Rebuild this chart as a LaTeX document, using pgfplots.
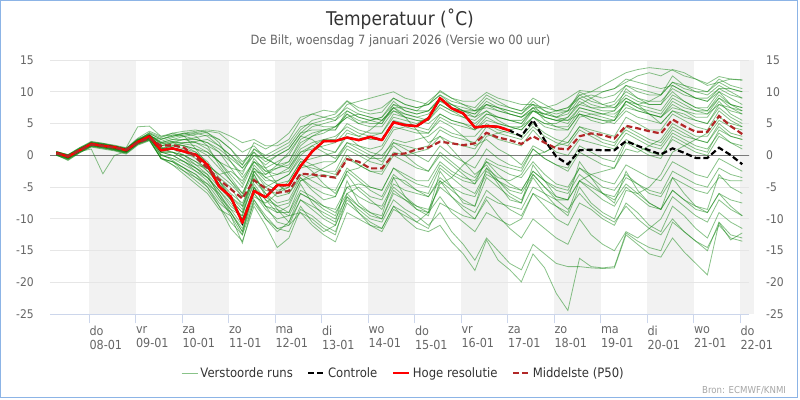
\documentclass[border=0pt]{standalone}
\usepackage{fontspec}
\setmainfont{DejaVu Sans}[FakeStretch=0.9]
\usepackage{pgfplots}
\pgfplotsset{compat=1.18}
\definecolor{band}{HTML}{F2F2F2}
\definecolor{gridgray}{HTML}{E6E6E6}
\definecolor{axisblue}{HTML}{CCD6EB}
\definecolor{ticktext}{HTML}{666666}
\definecolor{titletext}{HTML}{333333}
\definecolor{zerogray}{HTML}{7A7A7A}
\definecolor{border}{RGB}{140,180,230}
\definecolor{memgreen}{RGB}{20,135,20}
\definecolor{p50red}{RGB}{178,40,40}
\pgfplotsset{
  member/.style={memgreen, opacity=0.5, line width=0.8bp},
}
\newcommand{\mem}[1]{\addplot[member,forget plot] table[x expr=\coordindex, y index=0, header=false, row sep=\\] {#1};}
\begin{document}
\begin{tikzpicture}
\draw[border, line width=1bp] (0.5bp,2.5bp) rectangle (797.5bp,399.5bp);
\node[anchor=base, text=titletext, font=\fontsize{19}{22}\selectfont] at (400bp,374.3bp) {Temperatuur (˚C)};
\node[anchor=base, text=ticktext, font=\fontsize{12.8}{15}\selectfont] at (400.5bp,355.7bp) {De Bilt, woensdag 7 januari 2026 (Versie wo 00 uur)};
\node[anchor=base east, text=gray!70, font=\fontsize{9.6}{11}\selectfont] at (789.5bp,6.7bp) {Bron: ECMWF/KNMI};
\begin{axis}[
  at={(50bp,85.7bp)}, anchor=south west,
  scale only axis, width=699bp, height=254.3bp,
  xmin=-0.548, xmax=59.58, ymin=-25, ymax=15,
  hide x axis,
  axis y line*=right,
  y axis line style={draw=none},
  ytick={-25,-20,-15,-10,-5,0,5,10,15},
  yticklabels={-25,-20,-15,-10,-5,0,5,10,15},
  ytick style={draw=none},
  yticklabel style={anchor=west, inner sep=0pt, xshift=17bp, font=\fontsize{12}{14}\selectfont, text=ticktext},
]
\addplot[draw=none, forget plot] coordinates {(0,0) (1,0)};
\end{axis}
\begin{axis}[
  at={(50bp,85.7bp)}, anchor=south west,
  scale only axis, width=699bp, height=254.3bp,
  xmin=-0.548, xmax=59.58, ymin=-25, ymax=15,
  set layers,
  axis x line*=bottom, axis y line*=left,
  x axis line style={draw=axisblue, line width=1bp, -},
  y axis line style={draw=none},
  ytick={-25,-20,-15,-10,-5,0,5,10,15},
  yticklabels={-25,-20,-15,-10,-5,0,5,10,15},
  ymajorgrids, grid style={gridgray, line width=1bp},
  xtick={2.8333,6.8333,10.8333,14.8333,18.8333,22.8333,26.8333,30.8333,34.8333,38.8333,42.8333,46.8333,50.8333,54.8333,58.8333},
  xticklabels={{do\\08-01},{vr\\09-01},{za\\10-01},{zo\\11-01},{ma\\12-01},{di\\13-01},{wo\\14-01},{do\\15-01},{vr\\16-01},{za\\17-01},{zo\\18-01},{ma\\19-01},{di\\20-01},{wo\\21-01},{do\\22-01}},
  tick align=outside,
  major tick length=9bp,
  xtick style={draw=axisblue, line width=1bp},
  ytick style={draw=none},
  xticklabel style={anchor=north west, align=left, inner sep=0pt, font=\fontsize{12.5}{13.6}\selectfont, text=ticktext, xshift=0bp, yshift=-3bp},
  yticklabel style={anchor=east, inner sep=0pt, xshift=-7bp, font=\fontsize{12}{14}\selectfont, text=ticktext},
  legend columns=4,
  legend style={draw=none, fill=none, at={(0.506,-0.231)}, anchor=center, font=\fontsize{13}{15}\selectfont, text=titletext, /tikz/every even column/.append style={column sep=12bp}, nodes={inner sep=2.5bp}},
  legend image code/.code={\draw[#1] (0bp,0bp) -- (16bp,0bp);},
]
% day bands
\addplot[fill=band, draw=none, forget plot, on layer=axis background] coordinates {(2.8333,-25) (6.8333,-25) (6.8333,15) (2.8333,15)} -- cycle;
\addplot[fill=band, draw=none, forget plot, on layer=axis background] coordinates {(10.8333,-25) (14.8333,-25) (14.8333,15) (10.8333,15)} -- cycle;
\addplot[fill=band, draw=none, forget plot, on layer=axis background] coordinates {(18.8333,-25) (22.8333,-25) (22.8333,15) (18.8333,15)} -- cycle;
\addplot[fill=band, draw=none, forget plot, on layer=axis background] coordinates {(26.8333,-25) (30.8333,-25) (30.8333,15) (26.8333,15)} -- cycle;
\addplot[fill=band, draw=none, forget plot, on layer=axis background] coordinates {(34.8333,-25) (38.8333,-25) (38.8333,15) (34.8333,15)} -- cycle;
\addplot[fill=band, draw=none, forget plot, on layer=axis background] coordinates {(42.8333,-25) (46.8333,-25) (46.8333,15) (42.8333,15)} -- cycle;
\addplot[fill=band, draw=none, forget plot, on layer=axis background] coordinates {(50.8333,-25) (54.8333,-25) (54.8333,15) (50.8333,15)} -- cycle;
\addplot[fill=band, draw=none, forget plot, on layer=axis background] coordinates {(58.8333,-25) (60,-25) (60,15) (58.8333,15)} -- cycle;
% zero line
\addplot[zerogray, line width=1bp, forget plot] coordinates {(-1,0) (61,0)};
% perturbed members
\addplot[member] table[x expr=\coordindex, y index=0, header=false, row sep=\\] {0.6\\0.0\\1.1\\2.0\\1.8\\1.4\\1.0\\2.6\\3.4\\2.6\\3.0\\3.4\\3.6\\3.8\\3.5\\2.0\\0.5\\1.5\\-0.5\\0.5\\1.5\\4.0\\5.5\\6.0\\6.5\\8.5\\7.0\\6.5\\6.8\\9.0\\8.0\\7.5\\8.0\\9.5\\8.5\\8.0\\7.0\\7.5\\7.0\\6.5\\6.0\\7.5\\6.5\\6.0\\7.0\\8.0\\9.0\\10.0\\10.5\\11.5\\12.5\\13.0\\12.5\\13.5\\13.0\\12.0\\11.0\\11.5\\12.0\\11.8\\};
\addlegendentry{Verstoorde runs}
\mem{0.2\\-0.4\\0.7\\1.6\\1.3\\1.0\\0.6\\2.0\\2.8\\1.5\\2.0\\2.5\\2.8\\3.2\\2.5\\1.0\\-1.0\\0.5\\-2.0\\-1.0\\0.0\\3.0\\4.5\\5.0\\5.5\\7.0\\6.0\\5.5\\6.0\\8.0\\7.5\\7.0\\8.5\\10.0\\9.0\\8.0\\7.5\\9.5\\8.5\\7.5\\7.0\\8.0\\7.0\\6.5\\7.0\\10.0\\9.0\\8.0\\8.5\\11.0\\10.0\\9.5\\9.5\\12.5\\11.0\\10.0\\9.5\\11.0\\10.0\\9.0\\}
\mem{0.5\\-0.1\\1.0\\2.1\\1.9\\1.5\\1.1\\2.4\\3.2\\2.0\\2.5\\3.0\\3.3\\3.6\\2.0\\-1.0\\-3.5\\-1.0\\-3.0\\-2.0\\-1.5\\1.5\\3.0\\4.0\\4.5\\6.5\\5.0\\5.5\\6.0\\8.5\\7.0\\6.5\\7.0\\9.0\\8.0\\7.0\\6.5\\8.5\\7.5\\7.0\\6.5\\8.0\\6.0\\5.5\\6.0\\8.5\\7.5\\7.0\\7.0\\10.5\\9.0\\8.0\\8.0\\10.0\\8.5\\7.5\\7.5\\10.0\\8.0\\7.0\\}
\mem{0.3\\-0.3\\0.8\\1.7\\1.4\\1.1\\0.7\\2.1\\2.9\\1.0\\1.5\\1.0\\0.5\\-1.0\\-3.5\\-5.0\\-8.0\\-4.0\\-5.0\\-4.0\\-3.0\\0.0\\1.5\\2.5\\3.0\\4.5\\3.5\\3.0\\3.5\\6.0\\5.5\\5.0\\6.0\\8.0\\7.0\\6.0\\5.0\\6.5\\6.0\\5.5\\5.0\\7.5\\5.5\\4.5\\4.5\\7.0\\6.5\\6.0\\5.5\\8.5\\7.5\\6.5\\6.0\\8.0\\7.0\\6.0\\6.0\\8.5\\6.5\\5.5\\}
\mem{0.6\\0.1\\1.0\\1.9\\1.6\\1.3\\0.9\\2.3\\3.1\\2.2\\2.8\\3.2\\3.5\\3.0\\1.5\\0.0\\-2.0\\0.0\\-1.5\\0.0\\1.0\\3.5\\5.0\\5.5\\6.0\\7.5\\6.5\\6.0\\5.5\\7.0\\6.0\\5.5\\5.0\\6.5\\5.5\\5.0\\4.0\\5.5\\5.0\\4.5\\4.5\\6.0\\5.0\\5.0\\6.0\\8.0\\7.5\\7.5\\8.0\\10.0\\9.0\\8.5\\8.5\\10.5\\9.5\\9.0\\9.0\\10.5\\9.5\\9.0\\}
\mem{0.1\\-0.5\\0.6\\1.5\\1.2\\0.9\\0.4\\1.8\\2.6\\0.5\\1.0\\0.5\\-0.5\\-2.5\\-4.0\\-6.0\\-7.5\\-3.5\\-5.5\\-6.0\\-5.0\\-2.0\\-1.5\\-1.0\\-1.0\\1.5\\0.5\\-0.5\\-0.5\\2.5\\2.0\\2.5\\3.0\\4.5\\3.5\\3.0\\3.0\\5.0\\4.0\\3.5\\3.0\\5.0\\3.5\\2.5\\2.0\\4.5\\4.0\\3.5\\3.0\\6.0\\5.0\\4.0\\4.0\\6.5\\5.5\\4.5\\4.0\\7.0\\5.5\\4.5\\}
\mem{0.3\\-0.2\\0.9\\1.8\\1.6\\1.2\\0.8\\2.2\\2.8\\0.0\\-0.5\\-1.5\\-2.5\\-3.5\\-5.5\\-7.5\\-10.0\\-5.0\\-7.0\\-8.0\\-7.5\\-4.0\\-3.5\\-3.0\\-3.5\\-0.5\\-1.5\\-2.5\\-2.5\\0.5\\0.0\\0.5\\1.0\\3.0\\2.0\\1.5\\1.0\\3.5\\2.5\\2.0\\1.5\\4.0\\2.0\\0.5\\0.0\\2.5\\2.0\\1.5\\1.0\\3.5\\2.5\\1.5\\1.0\\3.5\\2.5\\1.5\\1.0\\3.5\\2.0\\1.0\\}
\mem{0.0\\-0.6\\0.5\\1.4\\1.1\\0.8\\0.3\\1.7\\2.4\\-0.5\\-1.5\\-2.5\\-3.5\\-4.5\\-6.0\\-8.5\\-11.0\\-6.0\\-8.5\\-10.0\\-9.5\\-6.0\\-7.0\\-8.0\\-8.5\\-5.0\\-6.5\\-7.5\\-8.0\\-4.5\\-5.5\\-6.0\\-6.5\\-3.5\\-5.0\\-6.0\\-6.5\\-3.0\\-4.0\\-5.0\\-5.5\\-2.5\\-4.0\\-5.0\\-5.5\\-2.0\\-3.0\\-4.0\\-4.5\\-1.5\\-2.5\\-3.5\\-4.0\\-1.0\\-2.0\\-3.0\\-3.5\\-0.5\\-1.5\\-2.5\\}
\mem{0.4\\-0.1\\1.0\\1.9\\1.7\\1.3\\1.0\\2.4\\3.3\\1.2\\1.0\\0.0\\-1.5\\-3.0\\-5.0\\-7.0\\-9.0\\-4.5\\-7.0\\-9.0\\-9.0\\-5.5\\-6.5\\-8.0\\-9.0\\-6.0\\-8.0\\-9.5\\-10.0\\-6.0\\-7.0\\-8.0\\-8.5\\-5.0\\-6.5\\-8.0\\-9.0\\-5.5\\-7.0\\-8.5\\-9.5\\-6.0\\-8.0\\-10.0\\-11.0\\-7.5\\-8.5\\-10.0\\-11.0\\-7.5\\-9.0\\-11.0\\-12.0\\-8.0\\-9.5\\-11.5\\-13.0\\-9.0\\-10.5\\-11.5\\}
\mem{0.2\\-0.3\\0.7\\1.6\\1.3\\1.0\\0.5\\1.9\\2.5\\-0.5\\-1.0\\-2.5\\-4.0\\-5.5\\-8.0\\-11.5\\-13.5\\-8.0\\-11.0\\-14.5\\-13.0\\-8.5\\-9.5\\-11.0\\-12.0\\-7.5\\-9.0\\-10.5\\-11.5\\-8.0\\-10.0\\-11.5\\-12.0\\-11.0\\-13.6\\-15.5\\-18.1\\-13.3\\-16.5\\-18.0\\-19.9\\-15.5\\-17.7\\-21.7\\-24.4\\-16.2\\-17.5\\-17.7\\-17.5\\-12.2\\-13.5\\-14.5\\-15.0\\-10.5\\-12.0\\-13.5\\-15.0\\-10.5\\-12.5\\-13.0\\}
\mem{0.5\\0.0\\1.0\\2.0\\1.7\\1.4\\1.0\\2.3\\3.0\\0.5\\0.5\\-0.5\\-2.0\\-3.5\\-6.0\\-9.0\\-12.0\\-7.0\\-9.5\\-11.5\\-11.0\\-7.0\\-8.5\\-10.0\\-11.0\\-7.0\\-8.5\\-10.0\\-10.5\\-7.0\\-8.5\\-9.5\\-11.0\\-9.0\\-12.0\\-14.0\\-16.5\\-13.0\\-15.0\\-17.0\\-18.0\\-14.0\\-15.5\\-17.0\\-17.5\\-17.5\\-17.7\\-17.8\\-17.7\\-12.5\\-14.0\\-15.5\\-16.0\\-13.0\\-15.2\\-17.0\\-18.8\\-10.6\\-13.3\\-12.2\\}
\mem{0.3\\-0.4\\0.8\\1.7\\1.5\\1.1\\0.6\\2.0\\2.7\\0.8\\0.5\\0.0\\-1.0\\-2.0\\-4.5\\-7.0\\-9.0\\-2.5\\-5.0\\-6.5\\-6.0\\-3.0\\-4.0\\-5.0\\-5.5\\-2.0\\-3.5\\-5.0\\-5.5\\-2.0\\-3.0\\-4.0\\-4.0\\-1.0\\-2.5\\-3.5\\-4.0\\-1.0\\-2.0\\-3.0\\-3.5\\-1.0\\-3.0\\-4.5\\-5.0\\-2.0\\-3.5\\-5.0\\-5.5\\-3.0\\-4.5\\-6.0\\-6.5\\-3.5\\-4.5\\-5.5\\-6.0\\-3.5\\-4.0\\-4.0\\}
\mem{0.4\\-0.2\\0.9\\1.8\\1.6\\1.2\\0.9\\2.4\\3.5\\2.5\\3.2\\3.5\\3.8\\4.0\\3.8\\3.0\\2.0\\2.5\\1.5\\1.5\\2.5\\5.5\\6.5\\7.1\\6.8\\8.6\\7.5\\7.0\\7.5\\9.0\\8.0\\7.5\\8.0\\10.2\\9.0\\8.5\\8.5\\9.9\\9.0\\8.5\\8.0\\8.0\\7.5\\8.0\\9.0\\10.2\\10.0\\11.0\\12.0\\13.0\\13.5\\13.8\\13.6\\13.4\\12.5\\12.0\\11.3\\12.4\\12.0\\11.9\\}
\mem{0.2\\-0.3\\0.8\\1.7\\1.4\\1.1\\0.7\\2.0\\2.6\\1.5\\1.8\\1.5\\1.0\\0.5\\-1.0\\-3.0\\-5.0\\-1.0\\-2.5\\-3.0\\-2.5\\0.5\\1.0\\1.5\\2.0\\4.0\\3.0\\2.5\\2.5\\5.5\\5.0\\4.5\\4.0\\6.5\\5.5\\5.0\\4.5\\6.5\\6.0\\5.5\\5.0\\7.0\\6.0\\5.5\\5.5\\7.5\\7.0\\6.5\\6.5\\8.0\\7.0\\6.5\\6.0\\7.5\\7.0\\6.5\\6.5\\8.0\\7.0\\6.5\\}
\mem{0.0\\-0.7\\0.4\\1.3\\1.0\\0.7\\0.2\\1.6\\2.3\\-0.5\\-1.0\\-2.0\\-3.0\\-4.5\\-7.0\\-9.0\\-12.0\\-5.0\\-8.0\\-9.0\\-8.0\\-4.0\\-3.0\\-2.0\\-1.0\\2.0\\1.5\\1.0\\1.5\\4.5\\4.0\\3.5\\3.5\\6.0\\5.0\\4.5\\4.0\\6.0\\5.0\\4.5\\4.0\\6.0\\4.5\\4.0\\4.0\\6.5\\6.0\\5.5\\5.5\\7.5\\7.0\\6.5\\6.0\\8.5\\7.5\\7.0\\7.0\\9.0\\8.0\\7.5\\}
\mem{0.5\\-0.1\\1.0\\1.9\\1.7\\1.4\\1.1\\2.5\\3.2\\1.8\\2.0\\1.5\\0.5\\-1.5\\-4.0\\-7.0\\-10.0\\-6.0\\-8.0\\-8.5\\-9.5\\-9.0\\-11.0\\-12.5\\-13.6\\-9.0\\-10.0\\-11.0\\-11.5\\-8.0\\-9.0\\-10.5\\-11.5\\-7.5\\-8.5\\-9.5\\-10.0\\-6.5\\-7.5\\-8.0\\-8.5\\-5.0\\-6.0\\-7.0\\-7.0\\-4.0\\-5.0\\-6.0\\-6.5\\-3.5\\-4.5\\-5.5\\-6.0\\-2.5\\-3.5\\-4.5\\-5.0\\-2.0\\-3.0\\-3.5\\}
\mem{0.3\\-0.1\\0.9\\1.8\\1.5\\1.3\\0.9\\2.3\\3.0\\1.0\\1.2\\0.8\\0.0\\-1.5\\-3.0\\-4.5\\-6.5\\-1.5\\-3.5\\-4.5\\-4.0\\-1.0\\-0.5\\0.0\\0.5\\3.0\\1.5\\0.5\\0.0\\2.0\\1.0\\0.0\\-1.0\\1.5\\0.0\\-1.0\\-2.0\\1.0\\-0.5\\-1.5\\-2.0\\1.0\\-0.5\\-1.5\\-2.5\\0.5\\-0.5\\-1.5\\-2.0\\2.0\\1.0\\0.0\\-0.5\\3.0\\2.0\\1.0\\0.5\\4.0\\3.0\\2.5\\}
\mem{0.1\\-0.5\\0.6\\1.5\\1.3\\0.9\\0.5\\1.9\\2.6\\0.0\\-0.5\\-1.0\\-2.0\\-3.5\\-5.5\\-8.0\\-9.5\\-3.0\\-6.0\\-7.5\\-7.0\\-3.5\\-5.0\\-6.0\\-6.5\\-2.5\\-4.0\\-5.5\\-6.5\\-3.0\\-4.5\\-5.5\\-6.0\\-2.0\\-3.5\\-5.0\\-6.0\\-2.5\\-4.0\\-5.5\\-6.0\\-3.0\\-5.0\\-6.5\\-7.0\\-4.0\\-5.5\\-7.0\\-8.0\\-5.0\\-6.5\\-8.0\\-8.5\\-5.5\\-7.0\\-8.5\\-9.0\\-6.0\\-7.0\\-7.5\\}
\mem{0.4\\-0.2\\0.9\\1.9\\1.6\\1.2\\0.8\\2.2\\2.9\\1.5\\2.0\\2.0\\2.0\\1.5\\0.5\\-1.0\\-3.0\\1.0\\0.0\\1.0\\2.0\\4.5\\5.0\\4.5\\4.5\\6.0\\5.0\\4.5\\4.5\\7.0\\6.5\\6.0\\6.5\\8.5\\7.5\\7.0\\6.5\\8.0\\7.0\\6.5\\6.0\\7.0\\6.5\\6.0\\6.5\\9.0\\8.0\\7.5\\7.5\\9.5\\8.5\\8.0\\8.0\\11.0\\10.0\\9.0\\8.5\\10.0\\9.0\\8.0\\}
\mem{0.6\\0.0\\1.1\\2.0\\1.8\\1.4\\1.0\\2.4\\3.1\\2.0\\2.5\\2.5\\2.0\\1.0\\-1.0\\-3.5\\-6.0\\-2.0\\-4.0\\-4.0\\-3.0\\-0.5\\-1.5\\-2.5\\-3.0\\0.0\\-1.5\\-2.5\\-3.0\\0.0\\-1.0\\-2.0\\-2.5\\0.5\\-1.0\\-2.5\\-3.5\\-1.0\\-3.0\\-4.5\\-5.5\\-2.5\\-4.0\\-5.5\\-6.0\\-3.0\\-4.5\\-6.0\\-7.0\\-4.5\\-6.0\\-7.5\\-8.5\\-5.5\\-7.0\\-8.0\\-9.0\\-6.0\\-8.0\\-9.5\\}
\mem{0.3\\-0.4\\0.6\\1.0\\-2.9\\0.0\\0.6\\2.0\\2.7\\0.5\\0.0\\-1.0\\-2.5\\-4.0\\-6.5\\-9.5\\-13.8\\-7.0\\-10.0\\-12.0\\-10.5\\-6.0\\-7.0\\-8.5\\-9.5\\-5.0\\-4.5\\-5.0\\-5.5\\-2.0\\-3.5\\-4.5\\-5.0\\-1.5\\-3.0\\-4.0\\-4.5\\-0.5\\-1.5\\-2.0\\-2.5\\1.0\\-0.5\\-1.5\\-2.0\\1.5\\0.5\\-0.5\\-1.0\\2.5\\1.5\\0.5\\0.0\\2.5\\1.5\\0.5\\0.0\\3.0\\2.0\\1.5\\}
\mem{0.5\\0.1\\1.2\\2.2\\1.9\\1.6\\1.2\\4.5\\4.6\\3.0\\3.2\\3.0\\2.5\\2.0\\0.5\\-2.0\\-4.5\\-0.5\\-2.5\\-2.0\\-1.0\\2.5\\3.5\\4.0\\4.0\\7.0\\6.0\\5.5\\5.0\\7.5\\6.5\\6.0\\5.5\\8.0\\7.0\\6.5\\6.0\\8.0\\7.5\\7.0\\6.5\\8.5\\7.0\\6.0\\5.5\\6.5\\6.0\\5.5\\5.0\\7.0\\6.0\\5.5\\5.0\\7.0\\6.0\\5.5\\5.0\\7.5\\6.0\\5.0\\}
\mem{0.2\\-0.3\\0.8\\1.6\\1.4\\1.0\\0.6\\2.1\\2.8\\0.5\\0.5\\0.0\\-1.0\\-2.5\\-4.5\\-6.5\\-8.5\\-2.5\\-4.5\\-5.5\\-5.0\\-1.5\\-2.0\\-2.5\\-2.5\\1.0\\0.0\\-1.0\\-1.5\\2.0\\1.5\\1.0\\1.5\\4.0\\3.0\\2.5\\2.0\\4.5\\3.5\\3.0\\2.5\\4.5\\3.0\\2.0\\1.5\\4.0\\3.0\\2.0\\1.5\\4.5\\3.5\\2.5\\2.0\\4.5\\3.5\\2.5\\2.0\\5.0\\3.5\\3.0\\}
\mem{0.1\\-0.6\\0.5\\1.5\\1.2\\0.8\\0.4\\1.8\\2.5\\-0.5\\-1.0\\-2.0\\-3.5\\-5.0\\-8.0\\-10.5\\-12.5\\-5.0\\-8.0\\-10.5\\-11.0\\-9.0\\-10.0\\-11.5\\-12.5\\-6.5\\-8.0\\-9.0\\-10.0\\-5.5\\-7.0\\-8.5\\-9.5\\-4.0\\-5.5\\-7.0\\-8.0\\-3.5\\-5.0\\-6.5\\-7.5\\-3.0\\-5.0\\-7.0\\-8.5\\-6.0\\-8.0\\-9.5\\-10.5\\-8.0\\-10.0\\-11.5\\-12.5\\-10.0\\-12.0\\-13.5\\-14.5\\-11.0\\-13.0\\-13.5\\}
\mem{0.4\\-0.1\\0.9\\1.8\\1.5\\1.2\\0.8\\2.2\\3.0\\1.8\\2.2\\2.5\\2.5\\2.0\\1.0\\-0.5\\-2.0\\0.5\\-1.0\\0.0\\1.0\\3.5\\4.0\\4.0\\4.0\\6.5\\5.5\\5.0\\5.0\\8.0\\7.0\\6.5\\7.0\\9.0\\7.5\\7.0\\7.0\\9.0\\8.0\\7.5\\7.0\\9.0\\8.0\\7.0\\7.0\\9.5\\8.5\\8.0\\7.5\\9.0\\8.0\\7.5\\7.0\\9.5\\8.5\\7.5\\7.0\\9.5\\8.0\\7.5\\}
\mem{0.3\\-0.2\\0.8\\1.7\\1.5\\1.2\\0.9\\2.3\\3.1\\1.2\\1.5\\1.5\\1.0\\0.0\\-2.0\\-4.0\\-6.0\\-2.0\\-3.5\\-3.0\\-2.0\\1.0\\2.0\\2.5\\2.5\\5.0\\4.0\\3.5\\3.5\\6.5\\6.0\\5.5\\5.5\\7.5\\6.5\\6.0\\5.5\\7.0\\6.0\\5.5\\5.5\\7.0\\6.0\\5.5\\5.0\\7.5\\7.0\\6.5\\6.0\\8.5\\7.5\\7.0\\6.5\\9.0\\8.0\\7.0\\6.5\\9.0\\7.5\\6.5\\}
\mem{0.4\\-0.3\\0.9\\1.7\\1.5\\1.1\\0.7\\2.3\\3.0\\2.5\\3.0\\3.5\\3.0\\1.5\\-1.5\\-4.0\\-6.5\\-2.5\\-3.0\\-1.5\\0.5\\3.0\\2.5\\1.0\\0.5\\3.5\\3.0\\4.0\\5.5\\7.5\\6.0\\4.0\\2.0\\3.0\\1.0\\-1.0\\-3.0\\-1.5\\-4.0\\-6.0\\-7.0\\-3.5\\-6.0\\-8.0\\-9.5\\-5.0\\-7.5\\-9.0\\-10.0\\-5.5\\-6.0\\-5.0\\-3.0\\0.5\\1.5\\2.5\\3.5\\6.0\\5.0\\4.5\\}
\mem{0.2\\-0.5\\0.6\\1.6\\1.4\\1.2\\0.9\\2.4\\3.1\\0.5\\0.0\\-1.0\\-2.0\\-3.0\\-6.5\\-8.5\\-9.5\\-4.0\\-6.0\\-8.5\\-10.5\\-7.0\\-8.0\\-9.0\\-10.0\\-6.5\\-9.0\\-11.0\\-12.0\\-8.5\\-9.5\\-10.5\\-9.0\\-4.5\\-3.5\\-1.5\\0.0\\3.0\\3.5\\4.0\\4.5\\7.0\\6.5\\7.0\\7.5\\9.0\\9.5\\9.0\\9.5\\11.0\\10.5\\10.0\\9.5\\11.5\\10.5\\10.0\\10.0\\12.0\\11.0\\10.5\\}
\mem{0.5\\-0.2\\1.0\\1.9\\1.5\\1.0\\0.6\\2.2\\3.6\\2.8\\3.5\\3.0\\1.0\\-1.5\\-3.0\\-2.5\\-4.0\\-1.0\\-2.0\\-4.5\\-6.0\\-3.5\\-5.5\\-7.0\\-6.5\\-2.5\\-2.0\\-0.5\\1.0\\4.0\\4.5\\4.0\\3.5\\5.5\\4.5\\3.0\\1.5\\2.5\\1.0\\0.0\\-1.5\\1.5\\0.5\\1.5\\3.0\\6.0\\6.5\\6.5\\7.0\\9.0\\8.0\\6.5\\5.0\\7.0\\6.5\\5.5\\5.0\\8.0\\7.5\\7.0\\}
\mem{0.3\\-0.5\\0.7\\1.8\\1.6\\1.3\\0.8\\2.1\\2.7\\0.2\\-0.8\\-2.0\\-3.0\\-5.0\\-7.5\\-9.0\\-11.5\\-6.5\\-7.5\\-6.0\\-4.0\\-1.0\\-2.5\\-4.5\\-6.0\\-3.0\\-5.5\\-7.0\\-8.5\\-5.0\\-6.5\\-8.0\\-9.0\\-6.5\\-9.0\\-10.5\\-12.0\\-9.0\\-10.0\\-11.0\\-10.0\\-6.0\\-7.0\\-8.0\\-9.0\\-4.0\\-3.0\\-2.5\\-2.0\\1.0\\0.5\\1.5\\2.5\\5.0\\4.0\\3.0\\3.0\\5.5\\4.5\\4.0\\}
\mem{0.6\\0.1\\1.2\\2.1\\1.8\\1.5\\1.1\\2.7\\3.8\\3.0\\3.5\\3.8\\4.0\\3.5\\2.5\\1.0\\-1.5\\2.0\\1.0\\2.0\\3.5\\6.0\\6.5\\6.0\\5.5\\8.0\\8.5\\9.0\\9.5\\10.0\\9.0\\8.5\\8.0\\9.5\\8.0\\7.0\\6.0\\7.0\\5.5\\4.5\\4.0\\6.0\\5.0\\4.5\\4.0\\6.5\\5.5\\5.0\\5.5\\8.5\\8.0\\8.5\\9.5\\11.5\\11.0\\10.5\\10.0\\11.5\\10.5\\10.0\\}
\mem{0.1\\-0.8\\0.4\\1.4\\1.2\\0.9\\0.5\\1.8\\2.4\\-0.3\\-1.5\\-3.0\\-4.5\\-6.0\\-8.5\\-9.5\\-12.5\\-7.5\\-10.0\\-11.5\\-12.0\\-8.0\\-10.5\\-12.0\\-11.0\\-6.0\\-5.0\\-6.5\\-7.0\\-3.5\\-4.0\\-5.5\\-6.5\\-4.0\\-6.5\\-8.5\\-10.0\\-7.0\\-9.5\\-11.5\\-13.0\\-10.0\\-11.5\\-13.0\\-14.0\\-10.0\\-12.5\\-14.0\\-15.0\\-12.0\\-13.0\\-11.5\\-10.0\\-6.5\\-8.0\\-9.5\\-10.5\\-7.0\\-8.5\\-9.5\\}
\mem{0.4\\-0.2\\0.8\\1.8\\1.7\\1.4\\1.0\\2.5\\3.3\\2.0\\2.2\\1.8\\1.5\\0.5\\-1.0\\-2.0\\-2.5\\0.0\\-0.5\\-1.5\\-2.0\\0.5\\1.5\\0.5\\-0.5\\2.0\\1.0\\0.0\\-1.0\\1.5\\0.0\\-1.5\\-2.5\\0.0\\-1.5\\-3.0\\-4.5\\-2.0\\-3.5\\-4.0\\-3.0\\0.0\\0.5\\1.5\\2.0\\4.5\\3.5\\2.5\\2.0\\4.0\\3.0\\2.0\\1.5\\4.0\\3.0\\2.5\\2.0\\4.5\\3.0\\2.5\\}
\mem{0.2\\-0.4\\0.7\\1.6\\1.4\\1.0\\0.6\\2.1\\2.9\\1.0\\1.5\\2.0\\2.2\\2.5\\1.5\\0.0\\-1.5\\1.0\\-0.5\\-1.5\\-1.0\\2.0\\3.0\\3.5\\4.5\\6.0\\6.5\\6.0\\5.5\\7.5\\7.5\\7.0\\7.0\\8.5\\8.0\\7.5\\7.0\\8.0\\7.5\\6.5\\6.0\\7.5\\7.5\\7.0\\7.5\\9.5\\10.0\\10.0\\10.5\\12.0\\11.5\\11.0\\10.5\\11.0\\10.0\\9.0\\8.5\\10.5\\10.5\\10.0\\}
\mem{0.3\\-0.3\\0.8\\1.7\\1.5\\1.2\\0.7\\2.0\\2.6\\1.0\\0.5\\-0.5\\-1.5\\-2.0\\-4.0\\-6.5\\-8.0\\-3.0\\-6.5\\-8.0\\-9.0\\-4.5\\-7.5\\-9.5\\-10.5\\-4.0\\-7.5\\-9.0\\-9.5\\-3.5\\-6.5\\-8.5\\-9.0\\-2.5\\-5.0\\-7.5\\-8.0\\-2.0\\-4.5\\-7.0\\-7.5\\-1.5\\-4.0\\-6.5\\-7.0\\-1.0\\-3.5\\-6.0\\-7.5\\-2.5\\-5.5\\-7.5\\-8.5\\-3.5\\-6.0\\-8.0\\-8.5\\-3.0\\-5.0\\-6.0\\}
% control
\addplot[black, line width=2.2bp, dash pattern=on 6bp off 3bp] table[x expr=\coordindex, y index=0, header=false, row sep=\\] {0.4\\-0.2\\0.8\\1.8\\1.5\\1.3\\0.8\\2.1\\3.0\\0.8\\1.1\\0.6\\0.1\\-1.5\\-4.9\\-6.5\\-10.6\\-5.6\\-6.6\\-4.7\\-4.7\\-1.7\\0.6\\2.25\\2.25\\2.8\\2.4\\2.9\\2.4\\5.2\\4.75\\4.6\\5.8\\9.0\\7.4\\6.6\\4.4\\4.6\\4.5\\3.9\\3.0\\5.55\\2.4\\-0.2\\-1.4\\0.8\\0.9\\0.8\\0.8\\2.25\\1.5\\0.8\\0.15\\1.1\\0.4\\-0.4\\-0.4\\1.2\\0.05\\-1.4\\};
\addlegendentry{Controle}
% high resolution
\addplot[red, line width=2.5bp, line join=round] table[x expr=\coordindex, y index=0, header=false, row sep=\\] {0.4\\-0.2\\0.8\\1.8\\1.5\\1.3\\0.8\\2.1\\3.0\\0.8\\1.1\\0.6\\0.1\\-1.5\\-4.9\\-6.5\\-10.6\\-5.6\\-6.6\\-4.7\\-4.7\\-1.7\\0.6\\2.25\\2.25\\2.8\\2.4\\2.9\\2.4\\5.2\\4.75\\4.6\\5.8\\9.0\\7.4\\6.6\\4.4\\4.6\\4.5\\3.9\\};
\addlegendentry{Hoge resolutie}
% median
\addplot[p50red, line width=2.2bp, dash pattern=on 6bp off 3bp] table[x expr=\coordindex, y index=0, header=false, row sep=\\] {0.3\\-0.1\\0.8\\1.7\\1.5\\1.2\\0.9\\2.0\\2.7\\1.5\\1.6\\1.2\\-0.3\\-2.0\\-3.8\\-5.3\\-6.8\\-3.9\\-5.2\\-5.9\\-5.6\\-2.9\\-3.0\\-3.25\\-3.5\\-0.6\\-1.0\\-2.05\\-2.05\\0.15\\0.3\\0.95\\1.25\\2.15\\1.9\\1.6\\1.9\\3.55\\2.8\\2.4\\1.8\\3.0\\2.0\\1.1\\0.95\\3.0\\3.45\\3.2\\2.65\\4.65\\4.25\\3.8\\3.45\\5.65\\4.6\\3.7\\3.7\\6.2\\4.6\\3.35\\};
\addlegendentry{Middelste (P50)}
\end{axis}
\pgfresetboundingbox
\path[use as bounding box] (0,0) rectangle (800bp,400bp);
\end{tikzpicture}
\end{document}
